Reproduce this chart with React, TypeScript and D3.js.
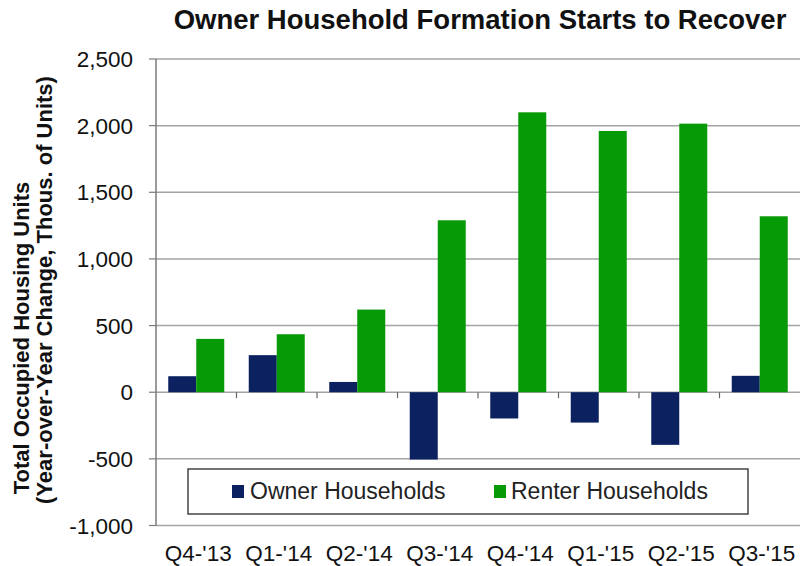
import React from "react";
import * as d3 from "d3";

const categories = ["Q4-'13", "Q1-'14", "Q2-'14", "Q3-'14", "Q4-'14", "Q1-'15", "Q2-'15", "Q3-'15"];
const ownerValues = [120, 278, 77, -505, -197, -228, -395, 123];
const renterValues = [400, 435, 620, 1290, 2100, 1960, 2015, 1320];
const seriesNames = ["Owner Households", "Renter Households"];
const yTicks = [-1000, -500, 0, 500, 1000, 1500, 2000, 2500];

const W = 801;
const H = 566;
const FONT = "'Liberation Sans', Arial, Helvetica, sans-serif";
const OWNER = "#0b2160";
const RENTER = "#079a07";

export default function App() {
  const left = 156;
  const right = 800;
  const top = 59;
  const bottom = 525.5;

  const x0 = d3.scaleBand<string>().domain(categories).range([left, right]).paddingInner(0).paddingOuter(0);
  const x1 = d3.scaleBand<string>().domain(seriesNames).range([0, x0.bandwidth()]).paddingInner(0).paddingOuter(0.4375);
  const y = d3.scaleLinear().domain([-1000, 2500]).range([bottom, top]);
  const fmt = d3.formatLocale({ decimal: ".", thousands: ",", grouping: [3], currency: ["$", ""], minus: "-" }).format(",");

  const rows = categories.map((c, i) => ({ c, vals: [ownerValues[i], renterValues[i]] }));
  const colors = [OWNER, RENTER];

  return (
    <svg width={W} height={H} style={{ position: "absolute", left: 0, top: 0, background: "#fff" }} fontFamily={FONT}>
      <rect x={0} y={0} width={W} height={H} fill="#fff" />
      {/* title */}
      <text x={480} y={29} textAnchor="middle" fontSize={27.5} fontWeight="bold" fill="#111">
        Owner Household Formation Starts to Recover
      </text>

      {/* gridlines */}
      {yTicks.map((t) => (
        <line key={"g" + t} x1={left} x2={right} y1={y(t)} y2={y(t)} stroke="#a3a3a3" strokeWidth={1.5} />
      ))}

      {/* bars */}
      {rows.map((r) =>
        r.vals.map((v, j) => (
          <rect
            key={r.c + j}
            x={(x0(r.c) as number) + (x1(seriesNames[j]) as number)}
            y={Math.min(y(v), y(0))}
            width={x1.bandwidth()}
            height={Math.abs(y(v) - y(0))}
            fill={colors[j]}
          />
        ))
      )}

      {/* zero line ticks */}
      {categories.map((c, i) =>
        i === 0 ? null : (
          <line key={"xt" + c} x1={x0(c) as number} x2={x0(c) as number} y1={y(0)} y2={y(0) + 6} stroke="#666" strokeWidth={1.2} />
        )
      )}

      {/* y axis */}
      <line x1={left} x2={left} y1={top} y2={bottom} stroke="#7a7a7a" strokeWidth={1.5} />
      {yTicks.map((t) => (
        <g key={"yt" + t}>
          <line x1={left - 7} x2={left} y1={y(t)} y2={y(t)} stroke="#7a7a7a" strokeWidth={1.2} />
          <text x={133} y={y(t)} dy="0.36em" textAnchor="end" fontSize={22.5} fill="#111">
            {fmt(t)}
          </text>
        </g>
      ))}

      {/* x labels */}
      {categories.map((c) => (
        <text key={"xl" + c} x={(x0(c) as number) + x0.bandwidth() / 2 + 2} y={561} textAnchor="middle" fontSize={22.5} fill="#111">
          {c}
        </text>
      ))}

      {/* y title */}
      <text transform={`translate(29,338) rotate(-90)`} textAnchor="middle" fontSize={22} fontWeight="bold" fill="#111">
        Total Occupied Housing Units
      </text>
      <text transform={`translate(52,290) rotate(-90)`} textAnchor="middle" fontSize={22} fontWeight="bold" fill="#111">
        (Year-over-Year Change, Thous. of Units)
      </text>

      {/* legend */}
      <rect x={188} y={469} width={560} height={45} fill="#fff" stroke="#444" strokeWidth={1.5} />
      <rect x={232} y={485} width={12} height={13} fill={OWNER} />
      <text x={250} y={499} fontSize={23} fill="#222">{seriesNames[0]}</text>
      <rect x={494} y={485} width={12} height={13} fill={RENTER} />
      <text x={511} y={499} fontSize={23} fill="#222">{seriesNames[1]}</text>
    </svg>
  );
}
